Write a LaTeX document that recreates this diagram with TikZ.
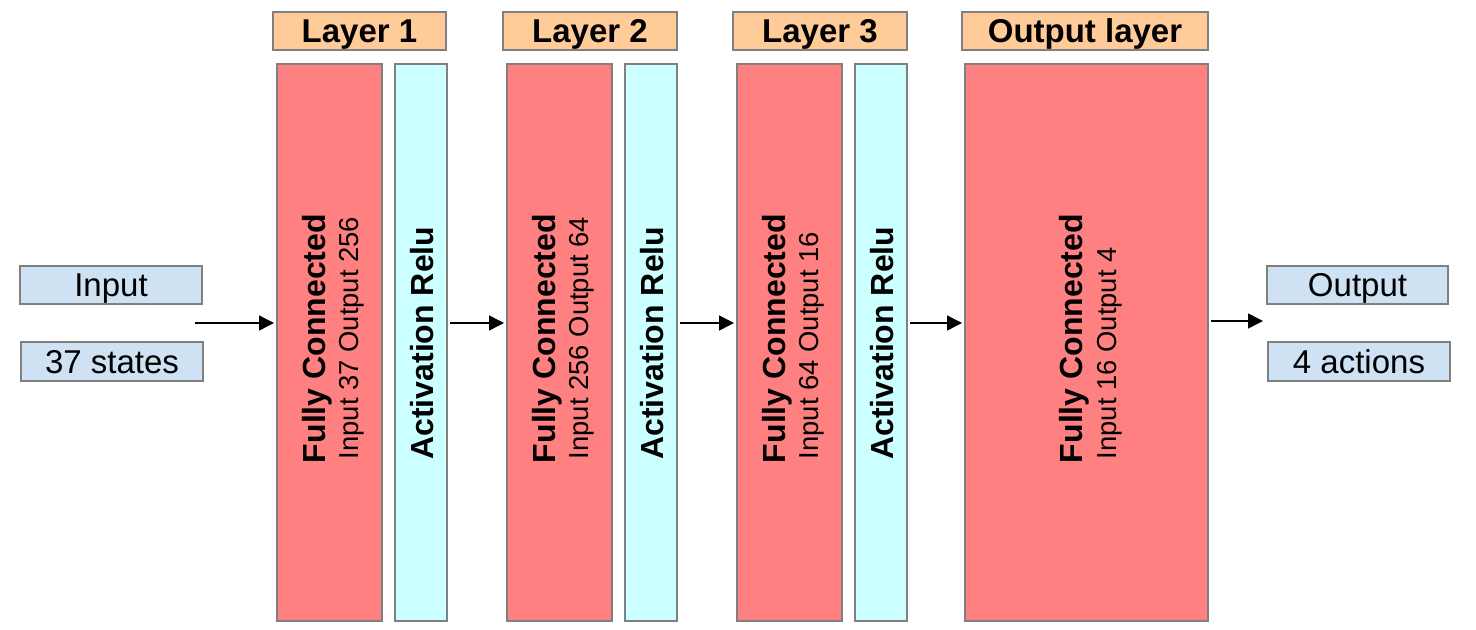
\documentclass[tikz,border=0pt]{standalone}
\usepackage{fontspec}
\setmainfont{Liberation Sans}
\usetikzlibrary{arrows.meta,fit,calc}
\definecolor{hdrorange}{HTML}{FFCC99}
\definecolor{fcred}{HTML}{FF8080}
\definecolor{actcyan}{HTML}{CCFFFF}
\definecolor{iobox}{HTML}{CFE2F3}
\definecolor{bordergray}{HTML}{808080}
\begin{document}
\begin{tikzpicture}[x=0.5pt,y=-0.5pt,
  box/.style={draw=bordergray, line width=1pt, inner sep=0pt, outer sep=0pt},
  hdrbox/.style={box, fill=hdrorange},
  iobx/.style={box, fill=iobox},
  hdrtext/.style={anchor=base, inner sep=0pt, font=\fontsize{16.5}{19}\selectfont\bfseries},
  iotext/.style={anchor=base, inner sep=0pt, font=\fontsize{16.5}{19}\selectfont},
  fcbox/.style={box, fill=fcred},
  actbox/.style={box, fill=actcyan},
  boldrot/.style={rotate=90, anchor=base west, inner sep=0pt, font=\fontsize{16}{19}\selectfont\bfseries},
  smallrot/.style={rotate=90, anchor=base west, inner sep=0pt, font=\fontsize{13.7}{16}\selectfont},
  arr/.style={line width=0.75pt, -{Triangle[length=7.5pt,width=7.5pt]}, shorten <=1.5pt, shorten >=1.5pt}
]
\useasboundingbox (0,0) rectangle (1476,630);

% headers
\node[hdrbox, fit={(273,12)(446,50)}] (h1) {};
\node[hdrbox, fit={(503,12)(677,50)}] (h2) {};
\node[hdrbox, fit={(733,12)(907,50)}] (h3) {};
\node[hdrbox, fit={(962,12)(1208,50)}] (h4) {};
\node[hdrtext] (h1t) at ($(h1.center)+(0,11.8)$) {Layer 1};
\node[hdrtext] (h2t) at ($(h2.center)+(0,11.8)$) {Layer 2};
\node[hdrtext] (h3t) at ($(h3.center)+(0,11.8)$) {Layer 3};
\node[hdrtext] (h4t) at ($(h4.center)+(0,11.8)$) {Output layer};

% input / output boxes
\node[iobx, fit={(20,266)(202,304)}] (in1) {};
\node[iobx, fit={(21,342)(203,381)}] (in2) {};
\node[iobx, fit={(1267,266)(1448,304)}] (out1) {};
\node[iobx, fit={(1268,342)(1450,381)}] (out2) {};
\node[iotext] (in1t) at ($(in1.center)+(0,11.8)$) {Input};
\node[iotext] (in2t) at ($(in2.center)+(0,11.8)$) {37 states};
\node[iotext] (out1t) at ($(out1.center)+(0,11.8)$) {Output};
\node[iotext] (out2t) at ($(out2.center)+(0,11.8)$) {4 actions};

% layer boxes
\node[fcbox, fit={(277,64)(382,621)}] (fc1) {};
\node[actbox, fit={(395,64)(447,621)}] (act1) {};
\node[fcbox, fit={(507,64)(612,621)}] (fc2) {};
\node[actbox, fit={(625,64)(677,621)}] (act2) {};
\node[fcbox, fit={(737,64)(842,621)}] (fc3) {};
\node[actbox, fit={(855,64)(907,621)}] (act3) {};
\node[fcbox, fit={(965,64)(1208,621)}] (fc4) {};

% rotated texts
\node[boldrot] (fc1a) at ($(fc1.center)+(-4.5,121)$) {Fully Connected};
\node[smallrot] (fc1b) at ($(fc1.center)+(29,117)$) {Input 37 Output 256};
\node[boldrot] (act1a) at ($(act1.center)+(12,117.5)$) {Activation Relu};

\node[boldrot] (fc2a) at ($(fc2.center)+(-4.5,121)$) {Fully Connected};
\node[smallrot] (fc2b) at ($(fc2.center)+(29,117)$) {Input 256 Output 64};
\node[boldrot] (act2a) at ($(act2.center)+(12,117.5)$) {Activation Relu};

\node[boldrot] (fc3a) at ($(fc3.center)+(-4.5,121)$) {Fully Connected};
\node[smallrot] (fc3b) at ($(fc3.center)+(29,117)$) {Input 64 Output 16};
\node[boldrot] (act3a) at ($(act3.center)+(12,117.5)$) {Activation Relu};

\node[boldrot] (fc4a) at ($(fc4.center)+(-4.5,121)$) {Fully Connected};
\node[smallrot] (fc4b) at ($(fc4.center)+(30,117)$) {Input 16 Output 4};

% arrows
\coordinate (a0) at (195,323);
\coordinate (a5) at (1266,321);
\draw[arr, shorten <=0pt] (a0) -- (fc1.west |- a0);
\draw[arr] (act1.east |- a0) -- (fc2.west |- a0);
\draw[arr] (act2.east |- a0) -- (fc3.west |- a0);
\draw[arr] (act3.east |- a0) -- (fc4.west |- a0);
\draw[arr] (fc4.east |- a5) -- (a5);
\end{tikzpicture}
\end{document}
